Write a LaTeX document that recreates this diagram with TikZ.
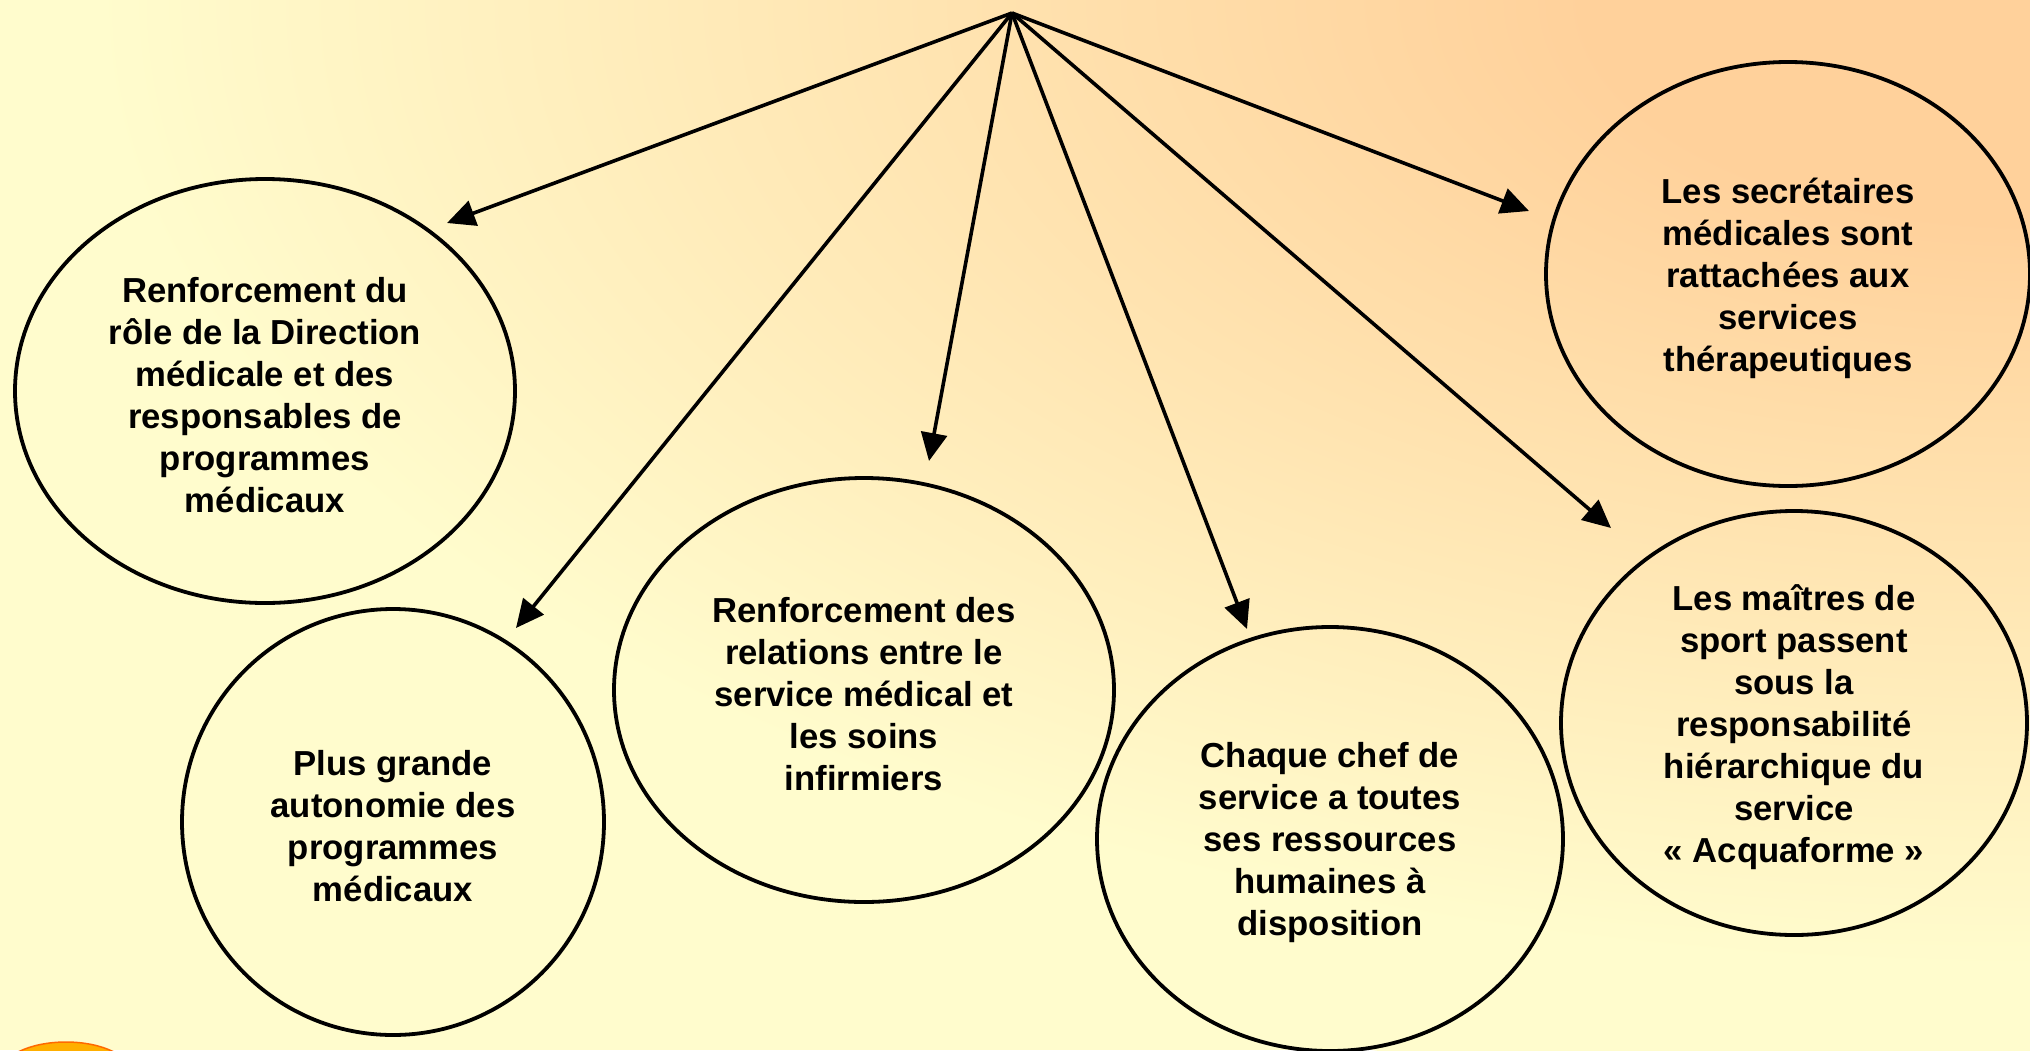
\documentclass[tikz,border=0pt]{standalone}
\usepackage{fontspec}
\setmainfont{Liberation Sans}
\usetikzlibrary{shapes.geometric,arrows.meta}
\definecolor{peach}{RGB}{255,209,155}
\definecolor{yel}{RGB}{255,252,205}
\definecolor{blobfill}{RGB}{255,175,0}
\definecolor{blobline}{RGB}{255,105,0}
\pgfdeclareradialshading{bgshade}{\pgfpoint{0bp}{0bp}}{color(0bp)=(peach); color(5bp)=(peach); color(22bp)=(yel); color(50bp)=(yel)}
\tikzset{
  bubble/.style={ellipse, draw=black, line width=3.8pt, inner sep=0pt},
  btext/.style={align=center, inner sep=0pt, font=\fontsize{34.7}{42}\selectfont\bfseries},
  conn/.style={line width=3.6pt, -{Triangle[length=28pt,width=26pt]}}
}
\begin{document}
\begin{tikzpicture}[x=1pt,y=-1pt]
\useasboundingbox (0,0) rectangle (2030,1050);
\begin{scope}
  \clip (0,0) rectangle (2030,1050);
  \fill[yel] (0,0) rectangle (2030,1050);
  \shade[shading=bgshade] (2030,0) ellipse [x radius=2200, y radius=1100];
  \draw[blobline, line width=1.5pt, fill=blobfill] (66,1074) ellipse [x radius=66, y radius=32];
\end{scope}

\node[bubble, minimum width=500pt, minimum height=424pt] (e1) at (265,391) {};
\node[btext] (x1) at ([yshift=-4pt]e1.center)
  {Renforcement du\\rôle de la Direction\\médicale et des\\responsables de\\programmes\\médicaux};
\node[bubble, minimum width=422pt, minimum height=426pt] (e2) at (393,822) {};
\node[btext] (x2) at ([yshift=-4pt]e2.center)
  {Plus grande\\autonomie des\\programmes\\médicaux};
\node[bubble, minimum width=500pt, minimum height=424pt] (e3) at (864,690) {};
\node[btext] (x3) at ([yshift=-4pt]e3.center)
  {Renforcement des\\relations entre le\\service médical et\\les soins\\infirmiers};
\node[bubble, minimum width=466pt, minimum height=424pt] (e4) at (1330,839) {};
\node[btext] (x4) at ([yshift=-4pt]e4.center)
  {Chaque chef de\\service a toutes\\ses ressources\\humaines à\\disposition};
\node[bubble, minimum width=484pt, minimum height=424pt] (e5) at (1788,274) {};
\node[btext] (x5) at ([yshift=-4pt]e5.center)
  {Les secrétaires\\médicales sont\\rattachées aux\\services\\thérapeutiques};
\node[bubble, minimum width=466pt, minimum height=424pt] (e6) at (1794,723) {};
\node[btext] (x6) at ([yshift=-4pt]e6.center)
  {Les maîtres de\\sport passent\\sous la\\responsabilité\\hiérarchique du\\service\\« Acquaforme »};

\coordinate (top) at (1012,13);
\coordinate (t1) at (447,223);
\coordinate (t2) at (516,628);
\coordinate (t3) at (929,461);
\coordinate (t4) at (1247,629);
\coordinate (t5) at (1529,211);
\coordinate (t6) at (1611,528);

\foreach \t in {t1,t2,t3,t4,t5,t6}
  \draw[conn] (top) -- (\t);
\end{tikzpicture}
\end{document}
